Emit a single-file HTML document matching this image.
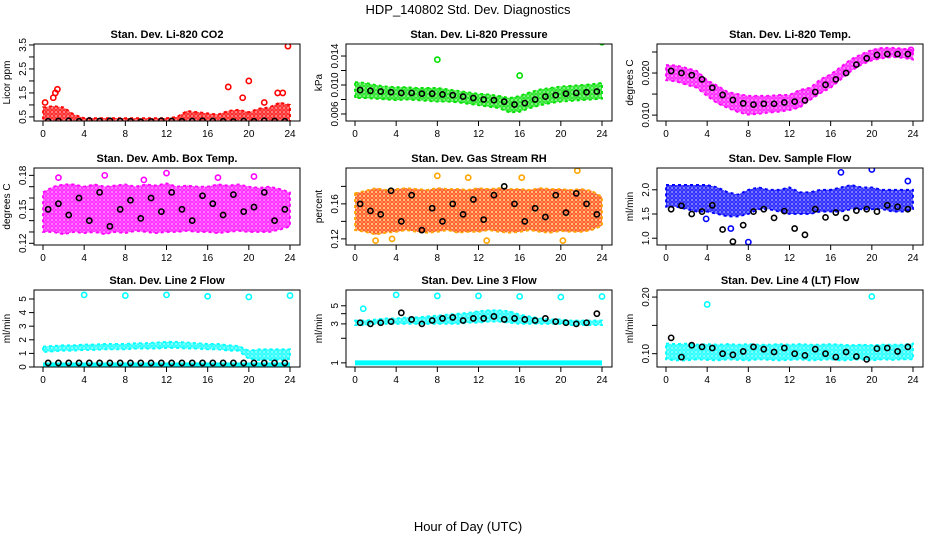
<!DOCTYPE html>
<html><head><meta charset="utf-8"><style>
body{margin:0;background:#fff}
svg{display:block;font-family:"Liberation Sans",sans-serif}
</style></head><body>
<svg id="c" width="936" height="540">
<defs id="defs"></defs>
<text x="468" y="14" text-anchor="middle" font-size="13">HDP_140802  Std. Dev. Diagnostics</text>
<text x="468" y="531" text-anchor="middle" font-size="13">Hour of Day (UTC)</text>
</svg>
<script>
// ---------- data ----------
const hours = [0,1,2,3,4,5,6,7,8,9,10,11,12,13,14,15,16,17,18,19,20,21,22,23,24];
const blackHours = [0.5,1.5,2.5,3.5,4.5,5.5,6.5,7.5,8.5,9.5,10.5,11.5,12.5,13.5,14.5,15.5,16.5,17.5,18.5,19.5,20.5,21.5,22.5,23.5];

const co2Lo = [0.28,0.28,0.28,0.28,0.28,0.28,0.28,0.28,0.28,0.28,0.28,0.28,0.28,0.28,0.28,0.28,0.28,0.28,0.28,0.28,0.28,0.28,0.28,0.28,0.28];
const co2Hi = [0.9,0.95,0.9,0.6,0.45,0.45,0.45,0.45,0.45,0.45,0.45,0.45,0.45,0.5,0.75,0.7,0.65,0.6,0.75,0.8,0.7,0.85,0.9,1.1,1.0];
const co2Black = [0.32,0.33,0.34,0.32,0.35,0.33,0.34,0.33,0.32,0.3,0.31,0.34,0.33,0.32,0.33,0.34,0.33,0.32,0.31,0.33,0.32,0.34,0.33,0.32];
const co2OutX = [0.2,1.0,1.2,1.4,18.0,19.4,20.0,21.5,22.8,23.3,23.8];
const co2OutY = [1.1,1.3,1.5,1.65,1.75,1.3,2.0,1.1,1.5,1.5,3.45];

const presLo = [0.0082,0.0082,0.0081,0.008,0.0079,0.008,0.0079,0.0078,0.0077,0.0077,0.0076,0.0074,0.0072,0.007,0.0068,0.0062,0.0063,0.0068,0.0072,0.0075,0.0077,0.0078,0.0079,0.008,0.0081];
const presHi = [0.0104,0.0103,0.01,0.0098,0.0097,0.0097,0.0096,0.0096,0.0096,0.0094,0.0092,0.009,0.0088,0.0087,0.0085,0.0082,0.0085,0.009,0.0094,0.0096,0.0098,0.0099,0.01,0.0101,0.0103];
const presBlack = [0.0093,0.0092,0.0091,0.009,0.0089,0.0089,0.0088,0.0088,0.0087,0.0086,0.0084,0.0082,0.008,0.0079,0.0077,0.0073,0.0075,0.008,0.0084,0.0086,0.0088,0.0089,0.009,0.0091];
const presOutX = [8.0,16.0,24.0];
const presOutY = [0.0135,0.0113,0.0159];

const tempLo = [0.0183,0.018,0.0172,0.0165,0.0145,0.0128,0.0117,0.0107,0.0101,0.0103,0.0106,0.0108,0.0112,0.0118,0.0136,0.0152,0.0165,0.0185,0.0205,0.022,0.023,0.0235,0.0238,0.0236,0.0232];
const tempHi = [0.0219,0.0218,0.0212,0.0205,0.0183,0.017,0.0155,0.015,0.0146,0.0146,0.0146,0.0148,0.0148,0.016,0.0165,0.0185,0.0197,0.0215,0.0233,0.0245,0.0255,0.026,0.026,0.0258,0.0255];
const tempBlack = [0.0205,0.02,0.0195,0.0185,0.0165,0.0148,0.0136,0.0128,0.0125,0.0127,0.0127,0.013,0.0132,0.0135,0.0155,0.0172,0.0185,0.02,0.022,0.0235,0.0243,0.0245,0.0245,0.0245];
const tempOutX = [23.8];
const tempOutY = [0.0255];

const ambLo = [0.13,0.13,0.128,0.13,0.129,0.13,0.128,0.13,0.129,0.131,0.13,0.129,0.13,0.13,0.131,0.13,0.13,0.129,0.13,0.131,0.13,0.13,0.13,0.132,0.135];
const ambHi = [0.165,0.17,0.172,0.172,0.17,0.172,0.17,0.171,0.172,0.17,0.172,0.171,0.173,0.17,0.171,0.17,0.17,0.172,0.171,0.172,0.17,0.169,0.17,0.168,0.165];
const ambBlack = [0.15,0.155,0.145,0.16,0.14,0.165,0.135,0.15,0.158,0.142,0.16,0.148,0.165,0.15,0.14,0.162,0.155,0.145,0.163,0.148,0.152,0.165,0.14,0.15];
const ambOutX = [1.5,6.0,9.8,12.0,17.0,20.5];
const ambOutY = [0.178,0.18,0.176,0.182,0.178,0.179];

const rhLo = [0.13,0.128,0.125,0.127,0.128,0.13,0.128,0.127,0.128,0.13,0.127,0.128,0.128,0.13,0.128,0.127,0.128,0.13,0.128,0.127,0.129,0.128,0.128,0.13,0.135];
const rhHi = [0.172,0.175,0.178,0.176,0.177,0.178,0.177,0.176,0.178,0.177,0.177,0.176,0.178,0.177,0.178,0.177,0.177,0.176,0.178,0.177,0.177,0.176,0.177,0.175,0.168];
const rhBlack = [0.16,0.152,0.148,0.175,0.14,0.17,0.13,0.155,0.14,0.16,0.148,0.165,0.142,0.17,0.18,0.16,0.14,0.155,0.145,0.17,0.15,0.172,0.16,0.148];
const rhOutX = [2.0,3.6,8.0,11.0,12.8,16.2,20.2,21.6];
const rhOutY = [0.118,0.12,0.192,0.19,0.118,0.19,0.118,0.198];

const flowLo = [1.65,1.65,1.6,1.55,1.55,1.5,1.45,1.45,1.5,1.6,1.6,1.55,1.5,1.5,1.5,1.55,1.55,1.55,1.6,1.6,1.6,1.6,1.55,1.55,1.6];
const flowHi = [2.1,2.1,2.1,2.1,2.1,2.05,1.95,1.9,2.0,2.05,2.0,2.0,2.05,1.95,1.95,2.0,2.0,2.05,2.1,2.05,2.05,2.0,2.0,2.0,2.0];
const flowBlack = [1.6,1.67,1.5,1.55,1.68,1.18,0.93,1.27,1.55,1.6,1.42,1.56,1.2,1.07,1.6,1.43,1.53,1.42,1.57,1.6,1.55,1.68,1.65,1.6];
const flowOutX = [3.9,6.3,8.0,17.0,20.0,23.5];
const flowOutY = [1.4,1.2,0.92,2.36,2.42,2.18];

const l2Lo = [1.1,1.15,1.2,1.2,1.25,1.25,1.3,1.3,1.3,1.35,1.35,1.35,1.4,1.4,1.35,1.35,1.3,1.3,1.2,1.2,0.6,0.5,0.5,0.5,0.6];
const l2Hi = [1.5,1.55,1.6,1.6,1.65,1.65,1.7,1.7,1.7,1.75,1.75,1.8,1.85,1.85,1.8,1.75,1.7,1.7,1.6,1.55,1.2,1.3,1.3,1.3,1.3];
const l2Black = [0.3,0.3,0.3,0.3,0.3,0.3,0.3,0.3,0.3,0.3,0.3,0.3,0.3,0.3,0.3,0.3,0.3,0.3,0.3,0.3,0.3,0.3,0.3,0.3];
const l2OutX = [4.0,8.0,12.0,16.0,20.0,24.0];
const l2OutY = [5.3,5.25,5.3,5.2,5.15,5.25];

const l3Lo = [2.9,2.9,3.0,3.0,3.0,3.0,3.0,3.0,3.0,3.0,3.0,3.1,3.1,3.2,3.2,3.1,3.0,3.0,3.0,3.0,3.0,2.9,2.9,2.9,2.9];
const l3Hi = [3.3,3.3,3.4,3.5,3.5,3.6,3.6,3.7,3.8,3.9,4.0,4.1,4.3,4.4,4.4,4.3,3.9,3.7,3.5,3.4,3.4,3.3,3.3,3.3,3.3];
const l3Black = [3.1,3.0,3.1,3.2,4.1,3.4,3.0,3.3,3.5,3.6,3.3,3.5,3.5,3.7,3.4,3.5,3.4,3.3,3.5,3.2,3.1,3.0,3.1,4.0];
const l3OutX = [4.0,8.0,12.0,16.0,20.0,24.0,0.8];
const l3OutY = [6.8,6.6,6.6,6.5,6.4,6.5,4.6];
const l3Base = 1.0;

const l4Lo = [0.09,0.088,0.088,0.09,0.089,0.088,0.09,0.089,0.088,0.09,0.089,0.088,0.089,0.09,0.088,0.089,0.09,0.088,0.089,0.09,0.088,0.09,0.089,0.09,0.09];
const l4Hi = [0.118,0.117,0.118,0.116,0.117,0.116,0.117,0.116,0.117,0.116,0.116,0.117,0.116,0.117,0.116,0.116,0.117,0.116,0.115,0.116,0.115,0.116,0.116,0.116,0.118];
const l4Black = [0.128,0.094,0.115,0.112,0.11,0.1,0.098,0.104,0.112,0.108,0.103,0.11,0.1,0.097,0.108,0.1,0.094,0.103,0.095,0.09,0.109,0.11,0.104,0.112];
const l4OutX = [4.0,12.0,20.0];
const l4OutY = [0.187,0.233,0.201];

// ---------- layout ----------
const colL = [34,346,657], rowT = [44,168,290], BW = 266, BH = 77;
const svg = document.getElementById('c');
const defs = document.getElementById('defs');
const NS = 'http://www.w3.org/2000/svg';
function mk(tag, attrs, parent){const e=document.createElementNS(NS,tag);for(const k in attrs)e.setAttribute(k,attrs[k]);(parent||svg).appendChild(e);return e;}

const panels = [
 {name:'co2',title:'Stan. Dev. Li-820 CO2',yl:'Licor ppm',col:'#ff0000',min:0.33,max:3.54,ticks:[0.5,1.5,2.5,3.5],tlab:['0.5','1.5','2.5','3.5'],minor:[1,2,3],lo:co2Lo,hi:co2Hi,bk:co2Black,ox:co2OutX,oy:co2OutY},
 {name:'pressure',title:'Stan. Dev. Li-820 Pressure',yl:'kPa',col:'#00e000',min:0.00503,max:0.01566,ticks:[0.006,0.010,0.014],tlab:['0.006','0.010','0.014'],minor:[0.008,0.012],lo:presLo,hi:presHi,bk:presBlack,ox:presOutX,oy:presOutY},
 {name:'temp',title:'Stan. Dev. Li-820 Temp.',yl:'degrees C',col:'#ff00ff',min:0.0086,max:0.0269,ticks:[0.010,0.020],tlab:['0.010','0.020'],minor:[0.015,0.025],lo:tempLo,hi:tempHi,bk:tempBlack,ox:tempOutX,oy:tempOutY},
 {name:'amb-temp',title:'Stan. Dev. Amb. Box Temp.',yl:'degrees C',col:'#ff00ff',min:0.1185,max:0.1865,ticks:[0.12,0.15,0.18],tlab:['0.12','0.15','0.18'],minor:[0.13,0.14,0.16,0.17],lo:ambLo,hi:ambHi,bk:ambBlack,ox:ambOutX,oy:ambOutY},
 {name:'rh',title:'Stan. Dev. Gas Stream RH',yl:'percent',col:'#ffa500',col2:'#ff2000',min:0.113,max:0.201,ticks:[0.12,0.16],tlab:['0.12','0.16'],minor:[0.14,0.18],lo:rhLo,hi:rhHi,bk:rhBlack,ox:rhOutX,oy:rhOutY},
 {name:'sample-flow',title:'Stan. Dev. Sample Flow',yl:'ml/min',col:'#0000ff',min:0.86,max:2.45,ticks:[1.0,1.5,2.0],tlab:['1.0','1.5','2.0'],minor:[],lo:flowLo,hi:flowHi,bk:flowBlack,ox:flowOutX,oy:flowOutY},
 {name:'line2-flow',title:'Stan. Dev. Line 2 Flow',yl:'ml/min',col:'#00ffff',min:0,max:5.66,ticks:[0,1,2,3,4,5],tlab:['0','1','2','3','4','5'],minor:[],lo:l2Lo,hi:l2Hi,bk:l2Black,ox:l2OutX,oy:l2OutY,base:0.15},
 {name:'line3-flow',title:'Stan. Dev. Line 3 Flow',yl:'ml/min',col:'#00ffff',log:true,min:0.89,max:7.8,ticks:[1,3,5],tlab:['1','3','5'],minor:[2,4],lo:l3Lo,hi:l3Hi,bk:l3Black,ox:l3OutX,oy:l3OutY,base:l3Base},
 {name:'line4-flow',title:'Stan. Dev. Line 4 (LT) Flow',yl:'ml/min',col:'#00ffff',min:0.0765,max:0.2125,ticks:[0.10,0.20],tlab:['0.10','0.20'],minor:[0.15],lo:l4Lo,hi:l4Hi,bk:l4Black,ox:l4OutX,oy:l4OutY}
];

panels.forEach((p,i)=>{
  const L=colL[i%3], T=rowT[Math.floor(i/3)];
  const pat=mk('pattern',{id:'dots'+i,width:4,height:4,patternUnits:'userSpaceOnUse'},defs);
  mk('circle',{cx:2,cy:2,r:1.3,fill:'none',stroke:p.col2||p.col,'stroke-width':0.9},pat);
  const g=mk('g',{});
  
  
  const X=h=>L+9+h*(247/24);
  const f=v=>p.log?Math.log10(v):v;
  const Y=v=>T+BH-(f(v)-f(p.min))/(f(p.max)-f(p.min))*BH;
  const clip=mk('clipPath',{id:'cl'+i},g); mk('rect',{x:L,y:T,width:BW,height:BH},clip);
  const pg=mk('g',{'clip-path':'url(#cl'+i+')'},g);
  let d='M'+hours.map((h,k)=>X(h)+','+Y(p.hi[k])).join('L');
  for(let k=hours.length-1;k>=0;k--) d+='L'+X(hours[k])+','+Y(p.lo[k]);
  const band2=mk('path',{d:d+'Z',fill:p.col,opacity:0.45},pg);
  
  
  const band=mk('path',{d:d+'Z',fill:'url(#dots'+i+')',stroke:p.col,'stroke-width':1.8,'stroke-dasharray':'3 3'},pg);
  
  
  if(p.base!==undefined){
    const bl=mk('line',{x1:X(0),x2:X(24),y1:Y(p.base),y2:Y(p.base),stroke:p.col,'stroke-width':5},pg);
    
    
  }
  p.ox.forEach((h,k)=>{
    const c=mk('circle',{cx:X(h),cy:Y(p.oy[k]),r:2.6,fill:'none',stroke:p.col,'stroke-width':1.6},pg);
    
    
  });
  p.bk.forEach((v,k)=>{
    const c=mk('circle',{cx:X(blackHours[k]),cy:Y(v),r:2.6,fill:'none',stroke:'#000','stroke-width':1.6},pg);
    
    
  });
  const box=mk('rect',{x:L,y:T,width:BW,height:BH,fill:'none',stroke:'#000','stroke-width':1},g);
  
  
  const tt=mk('text',{x:L+BW/2,y:T-6,'text-anchor':'middle','font-size':11,'font-weight':'bold'},g);
  tt.textContent=p.title;
  
  
  const yl=mk('text',{transform:`translate(${L-24},${T+BH/2}) rotate(-90)`,'text-anchor':'middle','font-size':10},g);
  yl.textContent=p.yl;
  
  
  [0,4,8,12,16,20,24].forEach(h=>{
    mk('line',{x1:X(h),x2:X(h),y1:T+BH,y2:T+BH+5,stroke:'#000'},g);
    const t=mk('text',{x:X(h),y:T+BH+16,'text-anchor':'middle','font-size':10},g);
    t.textContent=h;
    
    
  });
  p.minor.concat(p.ticks).forEach(v=>mk('line',{x1:L-5,x2:L,y1:Y(v),y2:Y(v),stroke:'#000'},g));
  p.ticks.forEach((v,k)=>{
    const t=mk('text',{transform:`translate(${L-8},${Y(v)}) rotate(-90)`,'text-anchor':'middle','font-size':10},g);
    t.textContent=p.tlab[k];
    
    
  });
});
</script>
</body></html>
